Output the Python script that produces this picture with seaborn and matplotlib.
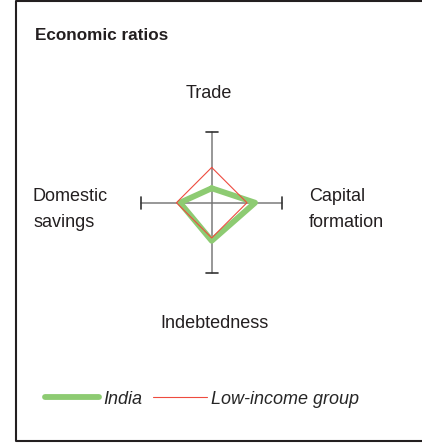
import numpy as np
import pandas as pd
import matplotlib
matplotlib.use("Agg")
import matplotlib.pyplot as plt
from matplotlib.lines import Line2D
import seaborn as sns

# ratios relative to the low-income group (axis ends at 2.0)
axes_names = ["Trade", "Capital formation", "Indebtedness", "Domestic savings"]
angles_deg = [90, 0, 270, 180]
india = [0.41, 1.23, 1.08, 0.90]
low_income = [1.0, 1.0, 1.0, 1.0]
axis_max = 2.0

W, H = 422, 443
sns.set_style("white")
plt.rcParams["font.family"] = ["Liberation Sans", "DejaVu Sans"]

scale = 35.25  # px per unit
cx, cy = 211.7, 202.7


def px(x, y):
    # pixel position (from top-left) -> figure fraction
    return x / W, 1 - y / H


def dpx(x, y):
    # pixel position (from top-left) -> data coords
    return (x - cx) / scale, (cy - y) / scale


def to_xy(values):
    a = np.deg2rad(angles_deg + angles_deg[:1])
    v = np.array(values + values[:1])
    return v * np.cos(a), v * np.sin(a)


rows = []
for name, vals in [("India", india), ("Low-income group", low_income)]:
    xs, ys = to_xy(vals)
    for i, (x, y) in enumerate(zip(xs, ys)):
        rows.append(dict(series=name, order=i, x=x, y=y))
df = pd.DataFrame(rows)

fig = plt.figure(figsize=(W / 100, H / 100), dpi=100)
ax = fig.add_axes([0, 0, 1, 1])

# spokes with end caps
cap = 6 / scale
for a in angles_deg:
    r = np.deg2rad(a)
    ex, ey = axis_max * np.cos(r), axis_max * np.sin(r)
    ax.plot([0, ex], [0, ey], color="#7a7a7a", lw=1.1, zorder=1)
    dx, dy = -np.sin(r) * cap, np.cos(r) * cap
    ax.plot([ex - dx, ex + dx], [ey - dy, ey + dy], color="#333333", lw=1.2, zorder=1)

sns.lineplot(data=df[df.series == "India"], x="x", y="y", sort=False, estimator=None,
             color="#8dcb72", linewidth=4.2, ax=ax, zorder=2)
sns.lineplot(data=df[df.series == "Low-income group"], x="x", y="y", sort=False,
             estimator=None, color="#ee4b3f", linewidth=0.8, ax=ax, zorder=3)

# outer frame (left, top, bottom)
corners = [dpx(W + 5, 0.8), dpx(16, 0.8), dpx(16, 441.3), dpx(W + 5, 441.3)]
ax.plot([c[0] for c in corners], [c[1] for c in corners],
        color="#231f20", lw=1.5, clip_on=False, zorder=5)

ax.set_xlim(-cx / scale, (W - cx) / scale)
ax.set_ylim(-(H - cy) / scale, cy / scale)
ax.axis("off")

handles = [Line2D([], [], color="#8dcb72", lw=4.2, solid_capstyle="round"),
           Line2D([], [], color="#ee4b3f", lw=0.8)]
ax.legend(handles, ["India", "Low-income group"], ncol=2, frameon=False,
          prop={"style": "italic", "size": 13}, handlelength=3.0,
          handletextpad=0.22, columnspacing=0.6, borderpad=0, borderaxespad=0,
          loc="center left", bbox_to_anchor=px(45, 399),
          bbox_transform=fig.transFigure)

txt = dict(fontsize=13, color="#231f20")
fig.text(*px(209, 98), "Trade", ha="center", va="baseline", **txt)
fig.text(*px(214, 328), "Indebtedness", ha="center", va="baseline", **txt)
fig.text(*px(309, 201), "Capital", ha="left", va="baseline", **txt)
fig.text(*px(309, 227), "formation", ha="left", va="baseline", **txt)
fig.text(*px(33, 201), "Domestic", ha="left", va="baseline", **txt)
fig.text(*px(33, 227), "savings", ha="left", va="baseline", **txt)
fig.text(*px(35, 40), "Economic ratios", ha="left", va="baseline",
         fontsize=12.3, fontweight="bold", color="#231f20")

fig.savefig("out.png", dpi=100)
